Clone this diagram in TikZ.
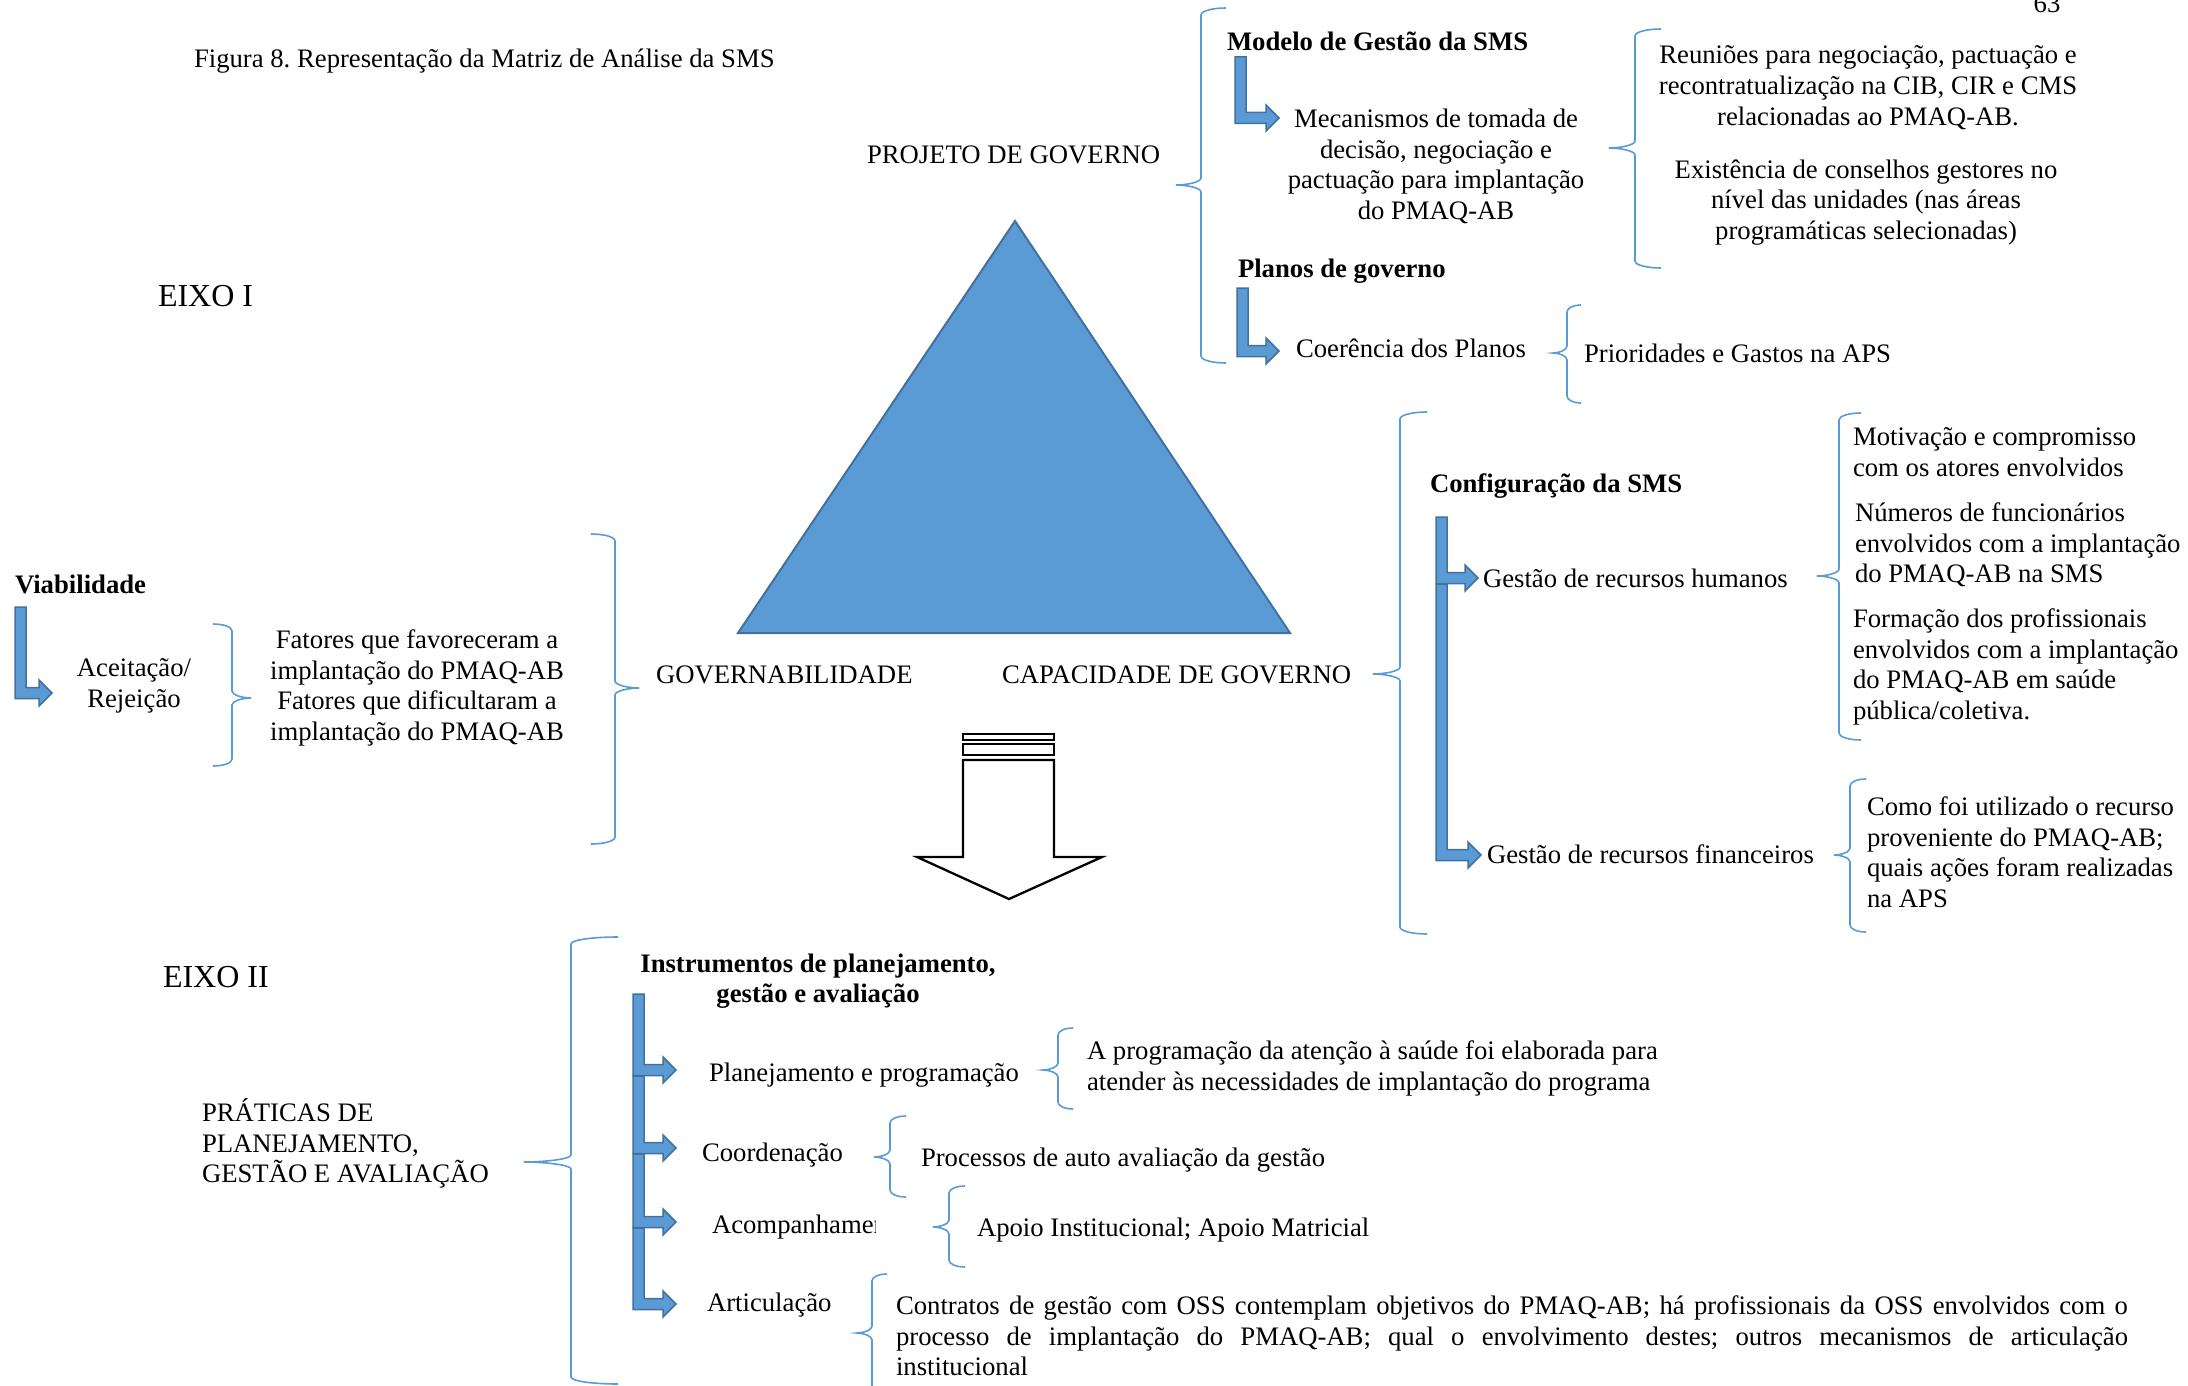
\documentclass[tikz,border=0pt]{standalone}
\usepackage{fontspec}
\setmainfont{Liberation Serif}
\frenchspacing
\definecolor{shapeblue}{HTML}{5B9BD5}
\definecolor{shapeedge}{HTML}{41719C}
\newcommand\bodyfont{\fontsize{26.7pt}{30.7pt}\selectfont}
\newcommand\eixofont{\fontsize{32pt}{36pt}\selectfont}
% left curly brace: x, top, tip, bottom, half-width
\newcommand\bracel[5]{%
  \draw[brc] (#1+#5,#2) .. controls (#1+0.45*#5,#2) and (#1,#2+3) .. (#1,#2+7)
    -- (#1,#3-7) .. controls (#1,#3-3) and (#1-0.55*#5,#3) .. (#1-#5,#3)
    .. controls (#1-0.55*#5,#3) and (#1,#3+3) .. (#1,#3+7)
    -- (#1,#4-7) .. controls (#1,#4-3) and (#1+0.45*#5,#4) .. (#1+#5,#4);}
% right curly brace: x, top, tip, bottom, half-width
\newcommand\bracer[5]{%
  \draw[brc] (#1-#5,#2) .. controls (#1-0.45*#5,#2) and (#1,#2+3) .. (#1,#2+7)
    -- (#1,#3-7) .. controls (#1,#3-3) and (#1+0.55*#5,#3) .. (#1+#5,#3)
    .. controls (#1+0.55*#5,#3) and (#1,#3+3) .. (#1,#3+7)
    -- (#1,#4-7) .. controls (#1,#4-3) and (#1-0.45*#5,#4) .. (#1-#5,#4);}
% bent block arrow: bar left x, bar top, branch y, tip x
\newcommand\bentarrow[4]{%
  \filldraw[elbow] (#1,#2) -- (#1+11,#2) -- (#1+11,#3-5.5) -- (#4-13,#3-5.5)
    -- (#4-13,#3-13) -- (#4,#3) -- (#4-13,#3+13) -- (#4-13,#3+5.5)
    -- (#1,#3+5.5) -- cycle;}
\begin{document}
\begin{tikzpicture}[x=1pt,y=-1pt,
  txt/.style={font=\bodyfont, inner sep=0pt, outer sep=0pt},
  multi/.style={txt, execute at begin node={\rule{0pt}{26pt}}},
  bold/.style={font=\bodyfont\bfseries},
  brc/.style={draw=shapeblue, line width=1.6pt},
  elbow/.style={fill=shapeblue, draw=shapeedge, line width=1.5pt, line join=miter},
  blockarrow/.style={draw=black, fill=white, line width=2.3pt, line join=miter}]
\useasboundingbox (0,0) rectangle (2188,1386);
\fill[white] (0,0) rectangle (2188,1386);

% page number and caption
\node[txt, anchor=base] (pagenum) at (2047,13) {63};
\node[txt, anchor=base west] (caption) at (194,67.5) {Figura 8. Representação da Matriz de Análise da SMS};

% central triangle
\filldraw[fill=shapeblue, draw=shapeedge, line width=2pt, line join=miter]
  (1015,221) -- (1290,633) -- (738,633) -- cycle;
\node[txt, anchor=base west] (projeto) at (867,164) {PROJETO DE GOVERNO};
\node[txt, anchor=base west] (govern) at (656,683) {GOVERNABILIDADE};
\node[txt, anchor=base west] (capac) at (1002,683) {CAPACIDADE DE GOVERNO};

% axis labels
\node[txt, font=\eixofont, anchor=base west] (eixo1) at (158,306.5) {EIXO I};
\node[txt, font=\eixofont, anchor=base west] (eixo2) at (163,987.5) {EIXO II};

% block arrow between the two axes
\filldraw[blockarrow] (963,734) rectangle (1054,740);
\filldraw[blockarrow] (963,744) rectangle (1054,755);
\filldraw[blockarrow] (963,760) -- (1054,760) -- (1054,857) -- (1102,857)
  -- (1009,899) -- (917,857) -- (963,857) -- cycle;

% ---- Projeto de governo ----
\bracel{1201}{8}{185}{363}{25}
\node[txt, bold, anchor=base west] (modelo) at (1227,50.5) {Modelo de Gestão da SMS};
\bentarrow{1235}{57}{118}{1279}
\node[multi, align=center, anchor=north] (mecan) at (1436,109)
  {Mecanismos de tomada de\\decisão, negociação e\\pactuação para implantação\\do PMAQ-AB};
\bracel{1635}{29}{148}{268}{26}
\node[multi, align=center, anchor=north] (reunioes) at (1868,46)
  {Reuniões para negociação, pactuação e\\recontratualização na CIB, CIR e CMS\\relacionadas ao PMAQ-AB.};
\node[multi, align=center, anchor=north] (conselhos) at (1866,159.5)
  {Existência de conselhos gestores no\\nível das unidades (nas áreas\\programáticas selecionadas)};
\node[txt, bold, anchor=base west] (planos) at (1238,277.5) {Planos de governo};
\bentarrow{1237}{288}{351}{1279}
\node[txt, anchor=base west] (coerencia) at (1296,357.5) {Coerência dos Planos};
\bracel{1567}{305}{353}{403}{14}
\node[txt, anchor=base west] (priorid) at (1584,362.5) {Prioridades e Gastos na APS};

% ---- Capacidade de governo ----
\bracel{1400}{412}{674}{934}{27}
\node[txt, bold, anchor=base west] (config) at (1430,492.5) {Configuração da SMS};
\bentarrow{1436}{517}{578}{1478}
\bentarrow{1436}{584}{855}{1481}
\node[txt, anchor=base west] (rh) at (1483,587.5) {Gestão de recursos humanos};
\node[txt, anchor=base west] (rf) at (1487,863.5) {Gestão de recursos financeiros};
\bracel{1839}{413}{576}{740}{22}
\node[multi, align=left, anchor=north west] (motiv) at (1853,427.5)
  {Motivação e compromisso\\com os atores envolvidos};
\node[multi, align=left, anchor=north west] (numeros) at (1855,502.5)
  {Números de funcionários\\envolvidos com a implantação\\do PMAQ-AB na SMS};
\node[multi, align=left, anchor=north west] (formacao) at (1853,608.5)
  {Formação dos profissionais\\envolvidos com a implantação\\do PMAQ-AB em saúde\\pública/coletiva.};
\bracel{1850}{779}{855}{932}{16}
\node[multi, align=left, anchor=north west] (recurso) at (1867,796.5)
  {Como foi utilizado o recurso\\proveniente do PMAQ-AB;\\quais ações foram realizadas\\na APS};

% ---- Governabilidade ----
\bracer{615}{534}{688}{844}{24}
\node[txt, bold, anchor=base west] (viab) at (15,593.5) {Viabilidade};
\bentarrow{15}{607}{693}{52}
\node[multi, align=center, anchor=north] (aceit) at (134,658.5) {Aceitação/\\Rejeição};
\bracer{232}{624}{698}{766}{19}
\node[multi, align=center, anchor=north] (fatores) at (417,629.5)
  {Fatores que favoreceram a\\implantação do PMAQ-AB\\Fatores que dificultaram a\\implantação do PMAQ-AB};

% ---- Eixo II ----
\node[multi, align=left, anchor=north west] (praticas) at (202,1098.5)
  {PRÁTICAS DE\\PLANEJAMENTO,\\GESTÃO E AVALIAÇÃO};
\bracel{571}{937}{1162}{1384}{47}
\node[multi, bold, align=center, anchor=north] (instr) at (818,953.5)
  {Instrumentos de planejamento,\\gestão e avaliação};
\bentarrow{633}{994}{1070}{676}
\bentarrow{633}{1076}{1148}{676}
\bentarrow{633}{1154}{1222}{676}
\bentarrow{633}{1228}{1304}{676}
\node[txt, anchor=base west] (planej) at (709,1081.5) {Planejamento e programação};
\node[txt, anchor=base west] (coord) at (702,1161.5) {Coordenação};
\begin{scope}
  \clip (700,1190) rectangle (875,1262);
  \node[txt, anchor=base west] (acomp) at (712,1233.5) {Acompanhamento};
\end{scope}
\node[txt, anchor=base west] (artic) at (707,1311.5) {Articulação};

\bracel{1058}{1028}{1070}{1109}{15}
\node[multi, align=left, anchor=north west] (aprog) at (1087,1040.5)
  {A programação da atenção à saúde foi elaborada para\\atender às necessidades de implantação do programa};
\bracel{890}{1116}{1157}{1197}{16}
\node[txt, anchor=base west] (processos) at (921,1166.5) {Processos de auto avaliação da gestão};
\bracel{949}{1186}{1227}{1267}{16}
\node[txt, anchor=base west] (apoio) at (977,1236.5) {Apoio Institucional; Apoio Matricial};
\bracel{872}{1274}{1333}{1420}{15}
\node[multi, align=left, anchor=north west] (contratos) at (896,1295.5)
  {\makebox[1232pt][s]{Contratos de gestão com OSS contemplam objetivos do PMAQ-AB; há profissionais da OSS envolvidos com o}\\
   \makebox[1232pt][s]{processo de implantação do PMAQ-AB; qual o envolvimento destes; outros mecanismos de articulação}\\
   institucional};
\end{tikzpicture}
\end{document}
